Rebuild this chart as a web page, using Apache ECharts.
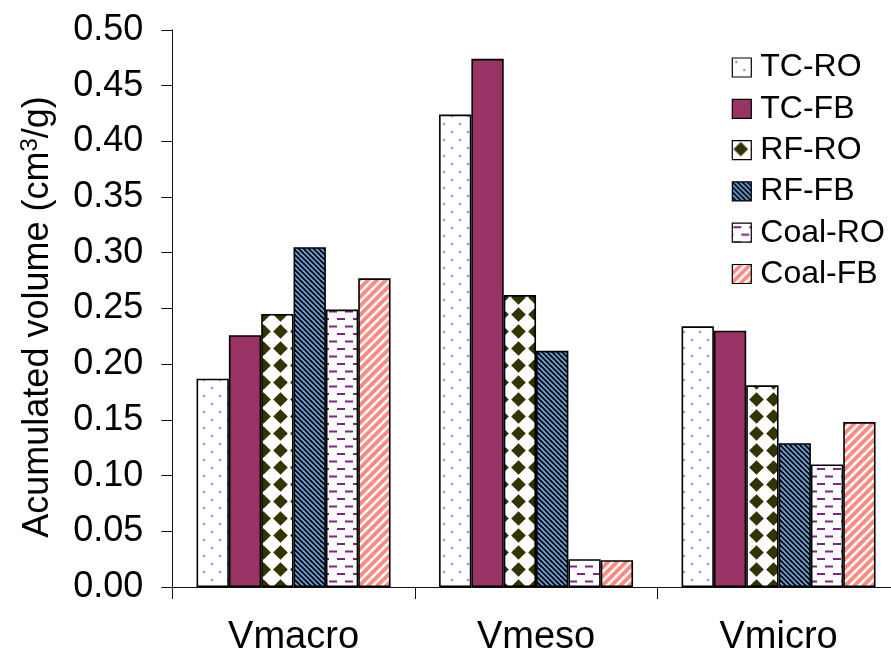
<!DOCTYPE html>
<html>
<head>
<meta charset="utf-8">
<script src="https://cdn.jsdelivr.net/npm/echarts@6/dist/echarts.min.js"></script>
<style>
  html, body { margin: 0; padding: 0; background: #fff; overflow: hidden; }
  #chart { width: 891px; height: 657px; }
</style>
</head>
<body>
<div id="chart"></div>
<script>
// Pore volume by pore class for each carbon / preparation route
const categories = ['Vmacro', 'Vmeso', 'Vmicro'];
const seriesNames = ['TC-RO', 'TC-FB', 'RF-RO', 'RF-FB', 'Coal-RO', 'Coal-FB'];
const tcRO   = [0.187, 0.424, 0.234];
const tcFB   = [0.226, 0.474, 0.230];
const rfRO   = [0.245, 0.262, 0.181];
const rfFB   = [0.305, 0.212, 0.129];
const coalRO = [0.249, 0.025, 0.110];
const coalFB = [0.277, 0.024, 0.148];
const yTickLabels = ['0.00', '0.05', '0.10', '0.15', '0.20', '0.25', '0.30', '0.35', '0.40', '0.45', '0.50'];
const yAxisTitle = 'Acumulated volume (cm{sup|3}/g)';

const FONT = '"Liberation Sans", Arial, sans-serif';

// Small repeating tiles used as hatch fills
function tile(w, h, draw) {
  const c = document.createElement('canvas');
  c.width = w; c.height = h;
  const ctx = c.getContext('2d');
  ctx.fillStyle = '#fff';
  ctx.fillRect(0, 0, w, h);
  draw(ctx, w, h);
  return { image: c, repeat: 'repeat' };
}

const dotFill = tile(32, 16, (ctx) => {
  ctx.fillStyle = 'rgba(100,100,255,0.75)';
  [[4, 4], [20, 4], [12, 12], [28, 12]].forEach(([x, y]) => {
    ctx.beginPath(); ctx.arc(x, y, 1.2, 0, Math.PI * 2); ctx.fill();
  });
});

const diamondFill = tile(17, 17, (ctx, w, h) => {
  ctx.fillStyle = '#333300';
  const d = 7.3;
  ctx.beginPath();
  ctx.moveTo(w / 2, h / 2 - d); ctx.lineTo(w / 2 + d, h / 2);
  ctx.lineTo(w / 2, h / 2 + d); ctx.lineTo(w / 2 - d, h / 2);
  ctx.closePath(); ctx.fill();
});

const blueStripeFill = tile(10, 10, (ctx, w, h) => {
  ctx.fillStyle = '#6fa6dd';
  ctx.fillRect(0, 0, w, h);
  ctx.strokeStyle = '#000';
  ctx.lineWidth = 1.8;
  for (let k = -3; k <= 3; k++) {
    ctx.beginPath(); ctx.moveTo(k * 5 - 5, -5); ctx.lineTo(k * 5 + 15, 15); ctx.stroke();
  }
});

const salmonStripeFill = tile(18, 18, (ctx) => {
  ctx.strokeStyle = '#ff8a80';
  ctx.lineWidth = 3.8;
  for (let k = -3; k <= 4; k++) {
    ctx.beginPath(); ctx.moveTo(k * 9 - 10, 28); ctx.lineTo(k * 9 + 28, -10); ctx.stroke();
  }
});

const dashFill = tile(16, 15, (ctx) => {
  ctx.fillStyle = '#7d2383';
  ctx.fillRect(1, 3, 8, 2);
  ctx.fillRect(9, 10.5, 8, 2);
  ctx.fillRect(-7, 10.5, 8, 2);
});

const fills = [dotFill, '#993366', diamondFill, blueStripeFill, dashFill, salmonStripeFill];
const values = [tcRO, tcFB, rfRO, rfFB, coalRO, coalFB];

const chart = echarts.init(document.getElementById('chart'), null, { renderer: 'canvas' });

chart.setOption({
  animation: false,
  backgroundColor: '#fff',
  grid: {
    left: 172.3, top: 29.9, width: 727.5, bottom: 70,
    containLabel: false, outerBoundsMode: 'none'
  },
  legend: {
    orient: 'vertical',
    left: 731.7, top: 51.5,
    padding: 0,
    itemWidth: 19, itemHeight: 19, itemGap: 9.3,
    icon: 'rect',
    data: seriesNames,
    textStyle: { fontFamily: FONT, fontSize: 32, lineHeight: 32, color: '#000', padding: [0, 0, 0, 4] },
    itemStyle: { borderColor: '#000', borderWidth: 1.2 }
  },
  xAxis: {
    type: 'category',
    data: categories,
    axisLine: { lineStyle: { color: '#111', width: 1 } },
    axisTick: { show: true, length: 12, inside: false, lineStyle: { color: '#111' } },
    axisLabel: { fontFamily: FONT, fontSize: 38, color: '#000', margin: 32 },
    splitLine: { show: false }
  },
  yAxis: {
    type: 'value',
    min: 0, max: 0.5, interval: 0.05,
    name: yAxisTitle,
    nameLocation: 'middle',
    nameRotate: 90,
    nameGap: 115,
    nameTextStyle: {
      fontFamily: FONT, fontSize: 36, color: '#000', padding: [0, 17, 0, 0],
      rich: {
        sup: { fontFamily: FONT, fontSize: 24, color: '#000', verticalAlign: 'bottom', padding: [0, 0, 15, 0] }
      }
    },
    axisLine: { show: true, lineStyle: { color: '#111', width: 1 } },
    axisTick: { show: true, length: 11, inside: false, lineStyle: { color: '#111' } },
    axisLabel: {
      fontFamily: FONT, fontSize: 36, color: '#000', margin: 29,
      formatter: (v) => yTickLabels[Math.round(v / 0.05)]
    },
    splitLine: { show: false }
  },
  series: seriesNames.map((name, i) => ({
    name,
    type: 'bar',
    data: values[i],
    barGap: '0%',
    barCategoryGap: '20%',
    itemStyle: { color: fills[i], borderColor: '#000', borderWidth: 1.6 },
    emphasis: { disabled: true }
  }))
});
</script>
</body>
</html>
